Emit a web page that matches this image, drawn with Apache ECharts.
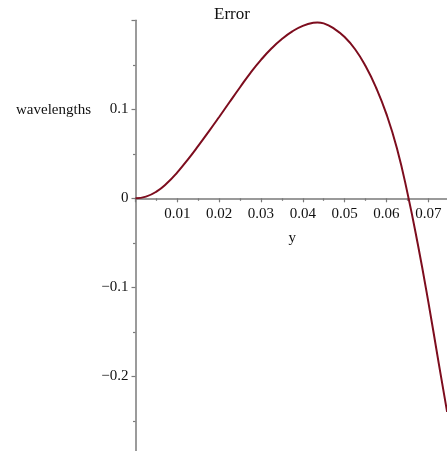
<!DOCTYPE html>
<html>
<head>
<meta charset="utf-8">
<script src="https://cdn.jsdelivr.net/npm/echarts@6/dist/echarts.min.js"></script>
<style>html,body{margin:0;padding:0;background:#fff}#c{width:447px;height:451px}</style>
</head>
<body>
<div id="c"></div>
<script>
var titleText = 'Error';
var yAxisName = 'wavelengths';
var xAxisName = 'y';
var xValues = [0, 0.0025, 0.005, 0.0075, 0.01, 0.0125, 0.015, 0.0175, 0.02, 0.0225, 0.025, 0.0275, 0.03, 0.0325, 0.035, 0.0375, 0.04, 0.0425, 0.0435, 0.045, 0.0475, 0.05, 0.0525, 0.055, 0.0575, 0.06, 0.0625, 0.065, 0.0675, 0.07, 0.0725, 0.0745];
var errValues = [0, 0.0019, 0.0075, 0.0168, 0.0291, 0.0435, 0.0589, 0.0749, 0.0914, 0.1082, 0.1248, 0.1410, 0.1555, 0.1683, 0.1790, 0.1876, 0.1938, 0.1972, 0.1976, 0.1965, 0.1906, 0.1812, 0.1675, 0.1486, 0.1245, 0.0945, 0.0562, 0.0064, -0.0517, -0.1161, -0.1855, -0.2400];
var xTickLabels = ['0.01', '0.02', '0.03', '0.04', '0.05', '0.06', '0.07'];
var yTickLabels = ['0.1', '0', '\u22120.1', '\u22120.2'];

var points = xValues.map(function (x, i) { return [x, errValues[i]]; });
var chart = echarts.init(document.getElementById('c'), null, {renderer: 'canvas'});
var font = 'Liberation Serif';
var axisColor = '#7a7a7a';
chart.setOption({
  animation: false,
  backgroundColor: '#ffffff',
  title: [
    {text: titleText, left: 209, top: 1, textStyle: {fontFamily: font, fontSize: 17, fontWeight: 'normal', color: '#111'}},
    {text: yAxisName, left: 11, top: 98, textStyle: {fontFamily: font, fontSize: 15, fontWeight: 'normal', color: '#111'}}
  ],
  grid: {left: 135.5, right: -2.2, top: 20.3, bottom: -14.3, containLabel: false, outerBoundsMode: 'none'},
  xAxis: {
    type: 'value', min: 0, max: 0.075, interval: 0.01,
    position: 'bottom', offset: -267,
    name: xAxisName, nameLocation: 'middle', nameGap: 32,
    nameTextStyle: {fontFamily: font, fontSize: 15, color: '#111'},
    axisLine: {onZero: false, lineStyle: {color: axisColor, width: 1.5}},
    axisTick: {show: true, length: 4, lineStyle: {color: axisColor, width: 1.2}},
    minorTick: {show: true, splitNumber: 2, length: 2.5, lineStyle: {color: axisColor, width: 1.2}},
    splitLine: {show: false},
    axisLabel: {
      margin: 8, fontFamily: font, fontSize: 15, color: '#111',
      formatter: function (v) {
        var idx = Math.round(v / 0.01) - 1;
        return (idx >= 0 && idx < xTickLabels.length) ? xTickLabels[idx] : '';
      }
    }
  },
  yAxis: {
    type: 'value', min: -0.3, max: 0.2, interval: 0.1,
    axisLine: {onZero: false, lineStyle: {color: axisColor, width: 1.5}},
    axisTick: {show: true, length: 4, lineStyle: {color: axisColor, width: 1.2}},
    minorTick: {show: true, splitNumber: 2, length: 2.5, lineStyle: {color: axisColor, width: 1.2}},
    splitLine: {show: false},
    axisLabel: {
      margin: 7, fontFamily: font, fontSize: 15, color: '#111',
      formatter: function (v) {
        var idx = Math.round((0.1 - v) / 0.1);
        return (idx >= 0 && idx < yTickLabels.length) ? yTickLabels[idx] : '';
      }
    }
  },
  series: [{
    type: 'line', data: points, smooth: true, showSymbol: false, symbol: 'none',
    lineStyle: {color: '#7d0d1e', width: 2}
  }]
});
</script>
</body>
</html>
